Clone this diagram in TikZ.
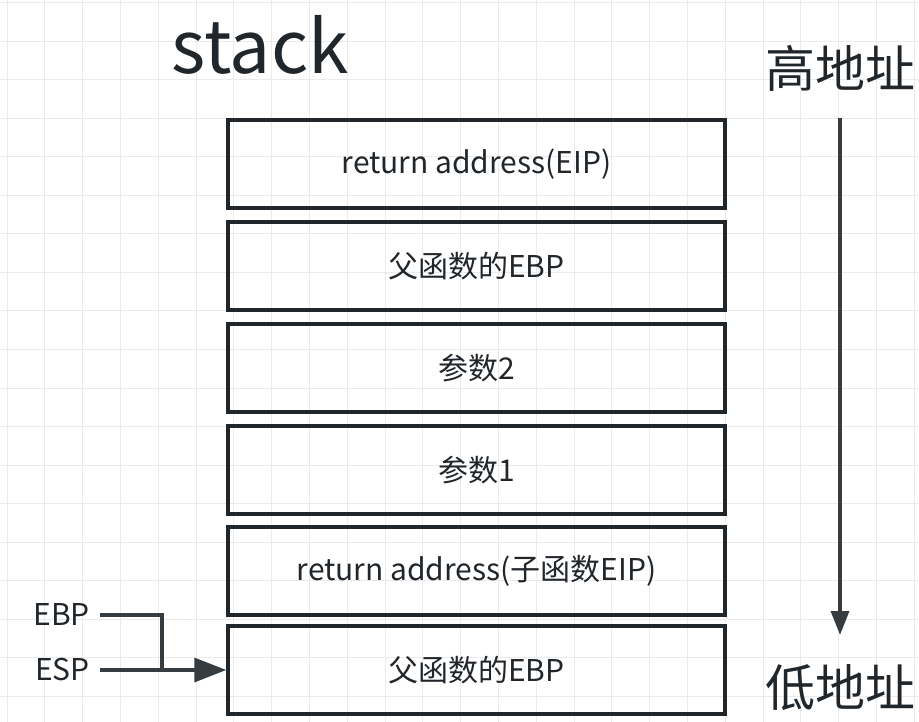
\documentclass[tikz,border=0pt]{standalone}
\usepackage{fontspec}
\setmainfont{Noto Sans CJK SC}
\usetikzlibrary{arrows.meta}
\definecolor{ink}{rgb}{0.13,0.15,0.17}
\definecolor{gridc}{rgb}{0.92,0.92,0.92}
\tikzset{
  frame/.style={draw=ink,line width=3.5pt,minimum width=497pt,minimum height=88pt,inner sep=0pt,font=\fontsize{30}{34}\selectfont,text=ink},
  label/.style={text=ink,inner sep=0pt},
  wire/.style={draw=ink!90,line width=3.5pt}
}
\begin{document}
\begin{tikzpicture}[x=1pt,y=-1pt]
\useasboundingbox (0,0) rectangle (919,722);
%grid
\foreach \i in {0,...,24} \draw[gridc,line width=1pt] (7+37.8*\i,0) -- (7+37.8*\i,722);
\foreach \j in {0,...,19} \draw[gridc,line width=1pt] (0,3+38.5*\j) -- (919,3+38.5*\j);

% stack frames
\node[frame] (f1) at (476.5,164) {return address(EIP)};
\node[frame] (f2) at (476.5,266) {父函数的EBP};
\node[frame] (f3) at (476.5,368) {参数2};
\node[frame] (f4) at (476.5,470) {参数1};
\node[frame] (f5) at (476.5,571) {return address(子函数EIP)};
\node[frame] (f6) at (476.5,670) {父函数的EBP};

% Text Node
\node[label,font=\fontsize{73}{78}\selectfont] (title) at (260,45) {stack};
\node[label,font=\fontsize{50}{54}\selectfont] (hi) at (840,68) {高地址};
\node[label,font=\fontsize{50}{54}\selectfont] (lo) at (840,688) {低地址};
\node[label,font=\fontsize{30}{34}\selectfont,anchor=east] (ebp) at (90,615) {EBP};
\node[label,font=\fontsize{30}{34}\selectfont,anchor=east] (esp) at (90,670) {ESP};

% arrows
\draw[wire,-{Triangle[length=24pt,width=18pt]}] (840,118) -- (840,635);
\draw[wire] (ebp.east) ++(10,0) -| (162,670);
\draw[wire,-{Triangle[length=32pt,width=24pt]}] ([xshift=10pt]esp.east) -- (f6.west);
\end{tikzpicture}
\end{document}
